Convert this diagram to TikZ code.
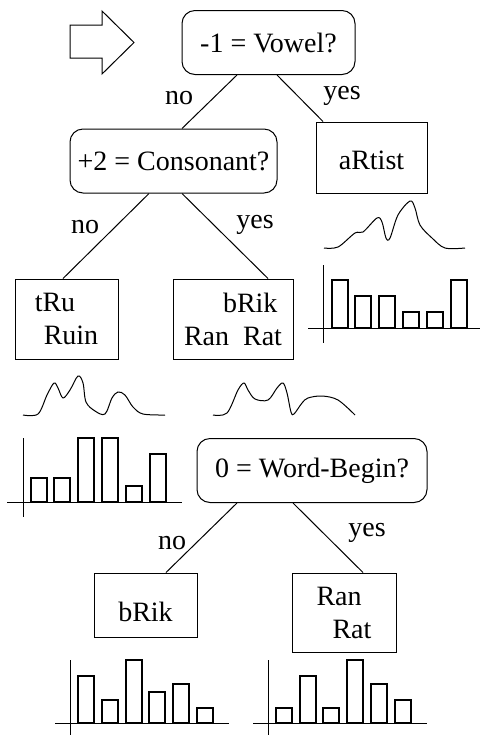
\documentclass[tikz,border=0pt]{standalone}
\usepackage{fontspec}
\setmainfont{Liberation Serif}
\usepackage{tikz}
\usetikzlibrary{arrows}
\usetikzlibrary{positioning}
\tikzstyle{test}=[draw,rounded corners=6.5pt,minimum height=32pt,inner sep=0pt]
\tikzstyle{leaf}=[draw,rectangle,inner sep=0pt,align=left]
\tikzstyle{lbl}=[inner sep=0pt]
\tikzstyle{edge} = [draw,-]

\begin{document}
\begin{tikzpicture}
		[x=0.5pt,y=-0.5pt,line width=0.5pt,font=\fontsize{14}{16.5}\selectfont,
		bar/.style={draw,line width=0.6pt}, curve/.style={draw,smooth,tension=0.55}]
		\useasboundingbox (0,0) rectangle (481,735);
		
		% start arrow
		\draw (70,25) -- (102,25) -- (102,11) -- (134,42.5) -- (102,74) -- (102,58) -- (70,58) -- cycle;
		
		% tests
		\node[test,minimum width=86.5pt] (vowel) at (268.5,42.5) {-1 = Vowel?};
		\node[test,minimum width=103.5pt] (cons) at (173.5,161) {+2 = Consonant?};
		\node[test,minimum width=115pt] (wbegin) at (312,470.5) {0 = Word-Begin?};
		
		% leaves
		\node[leaf,minimum width=55.5pt,minimum height=35.5pt,text height=12.1pt,text depth=0pt] (artist) at (371.5,157.5) {aRtist};
		\node[leaf,minimum width=51.5pt,minimum height=40pt] (tru) at (66.5,319) {tRu\\\hspace{4.5pt}Ruin};
		\node[leaf,minimum width=60pt,minimum height=40pt] (brik) at (233,319) {\hspace{19.5pt}bRik\\Ran~~Rat};
		\node[leaf,minimum width=51.5pt,minimum height=32pt,text height=16.6pt,text depth=0pt] (brikb) at (145.5,605) {bRik};
		\node[leaf,minimum width=52pt,minimum height=39.5pt] (ranrat) at (344,612.5) {Ran\\\hspace{8pt}Rat};
		
		% edges
		\draw[edge] ([xshift=-15.75pt]vowel.south) to ([xshift=4.25pt]cons.north);
		\draw[edge] ([xshift=4.25pt]vowel.south) to ([xshift=-24.25pt]artist.north);
		\draw[edge] ([xshift=-12.25pt]cons.south) to ([xshift=-1.75pt]tru.north);
		\draw[edge] ([xshift=4.25pt]cons.south) to ([xshift=17.5pt]brik.north);
		\draw[edge] ([xshift=-37.5pt]wbegin.south) to ([xshift=10.25pt]brikb.north);
		\draw[edge] ([xshift=-9.5pt]wbegin.south) to ([xshift=9.5pt]ranrat.north);
		
		\node[lbl] (no1) at (179,98) {no};
		\node[lbl] (yes1) at (342,96) {yes};
		\node[lbl] (no2) at (85,227) {no};
		\node[lbl] (yes2) at (255,225) {yes};
		\node[lbl] (no3) at (172,543) {no};
		\node[lbl] (yes3) at (367,533) {yes};
		
		% densities
		\draw[curve] plot coordinates {(324,248) (338,247) (355,233) (363,232) (377,218) (382,222) (386,238) (390,238) (398,215) (410,201) (415,208) (420,225) (432,238) (445,248) (465,248)};
		\draw[curve] plot coordinates {(23,415) (38,414) (47,395) (54,383) (58,388) (63,398) (70,390) (78,376) (83,383) (86,402) (95,411) (105,414) (112,398) (118,392) (125,395) (133,407) (143,414) (165,415)};
		\draw[curve] plot coordinates {(213,415) (227,413) (238,390) (244,383) (248,390) (255,399) (268,400) (277,388) (283,383) (287,393) (291,412) (294,414) (302,403) (308,398) (322,396) (338,400) (355,415)};
		
		% histograms
		\draw (323,265) -- (323,343);
		\draw (308,328) -- (480,328);
		\foreach \x/\h in {332/48,355/32,379/32,403/16,427/16,451/48}
			\draw[bar] (\x,328) rectangle ++(16,-\h);
		
		\draw (23,438) -- (23,517);
		\draw (7,502) -- (182,502);
		\foreach \x/\h in {31/24,54/24,78/64,102/64,126/16,150/48}
			\draw[bar] (\x,502) rectangle ++(16,-\h);
		
		\draw (70,660) -- (70,735);
		\draw (55,723) -- (229,723);
		\foreach \x/\h in {78/47,102/23,126/63,149/31,173/39,197/15}
			\draw[bar] (\x,723) rectangle ++(16,-\h);
		
		\draw (268,660) -- (268,735);
		\draw (253,723) -- (427,723);
		\foreach \x/\h in {276/15,300/47,323/15,347/63,371/39,395/23}
			\draw[bar] (\x,723) rectangle ++(16,-\h);
		
		\end{tikzpicture}
\end{document}
